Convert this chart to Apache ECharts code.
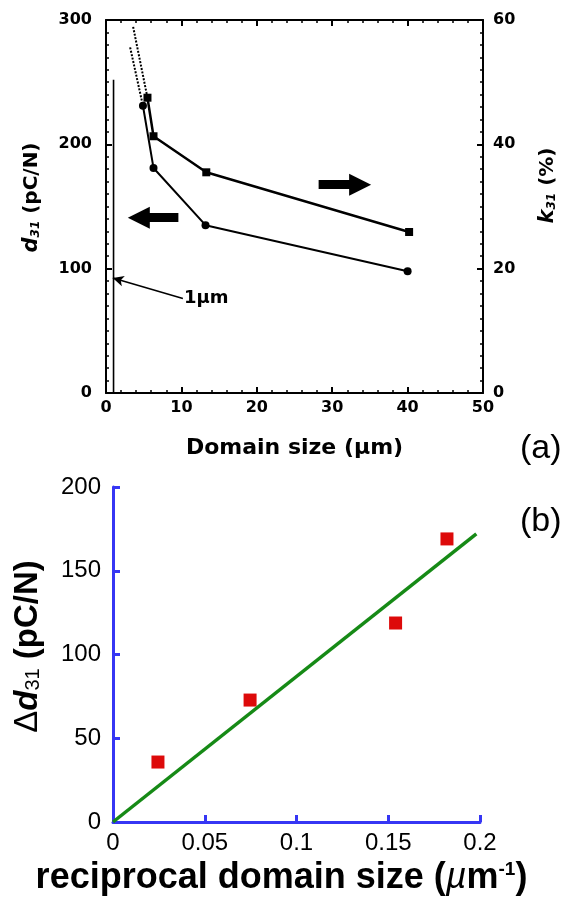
<!DOCTYPE html>
<html>
<head>
<meta charset="utf-8">
<script src="https://cdn.jsdelivr.net/npm/echarts@6/dist/echarts.min.js"></script>
<style>html,body{margin:0;padding:0;background:#fff;}#c{width:566px;height:900px;}</style>
</head>
<body>
<div id="c"></div>
<script>
// Panel (a): domain size (µm) vs d31 (pC/N) and k31 (%)
const d31Points = [[4.9, 231], [6.3, 181], [13.2, 135], [40, 98]];
const d31Extrap = [[3.2, 278], [4.9, 231]];
const k31Points = [[5.5, 47.5], [6.3, 41.3], [13.3, 35.5], [40.2, 25.9]];
const k31Extrap = [[3.6, 58.9], [5.5, 47.5]];
const oneMicronLine = [[1, 0], [1, 252]];
const xTicksA = [0, 10, 20, 30, 40, 50];
const d31Ticks = [0, 100, 200, 300];
const k31Ticks = [0, 20, 40, 60];
// Panel (b): reciprocal domain size vs Δd31
const recipX = [0.0245, 0.0747, 0.154, 0.182];
const deltaD31 = [35.8, 72.8, 118.8, 169];
const fitLine = [[0, 0], [0.198, 172]];
const xTicksB = ['0', '0.05', '0.1', '0.15', '0.2'];
const yTicksB = [0, 50, 100, 150, 200];

const FA = 'DejaVu Sans';
const FB = 'Liberation Sans, Arial, sans-serif';
const blue = '#3636f4';

const blackAxis = (extra) => Object.assign({
  axisLine: { show: true, onZero: false, lineStyle: { color: '#000', width: 2 } },
  axisTick: { show: true, inside: true, length: 6, lineStyle: { color: '#000', width: 2 } },
  minorTick: { show: true, length: 3, lineStyle: { color: '#000', width: 1.5 } },
  splitLine: { show: false },
  axisLabel: { color: '#000', fontFamily: FA, fontWeight: 'bold', fontSize: 16 }
}, extra);

const chart = echarts.init(document.getElementById('c'));
chart.setOption({
  animation: false,
  backgroundColor: '#fff',
  grid: [
    { left: 106, top: 20, width: 379, height: 373 },
    { left: 113, top: 487, width: 367, height: 335 }
  ],
  xAxis: [
    blackAxis({
      gridIndex: 0, type: 'value', min: 0, max: 50, interval: 10, position: 'bottom',
      minorTick: { show: true, splitNumber: 5, length: 3, lineStyle: { color: '#000', width: 1.5 } },
      axisLabel: { color: '#000', fontFamily: FA, fontWeight: 'bold', fontSize: 16, margin: 7,
        formatter: v => xTicksA.includes(v) ? String(v) : '' },
      name: 'Domain size (µm)', nameLocation: 'middle', nameGap: 44,
      nameTextStyle: { color: '#000', fontFamily: FA, fontWeight: 'bold', fontSize: 22 }
    }),
    blackAxis({
      gridIndex: 0, type: 'value', min: 0, max: 50, interval: 10, position: 'top',
      minorTick: { show: true, splitNumber: 5, length: 3, lineStyle: { color: '#000', width: 1.5 } },
      axisLabel: { show: false }
    }),
    {
      gridIndex: 1, type: 'value', min: 0, max: 0.2, interval: 0.05,
      axisLine: { show: true, onZero: false, lineStyle: { color: blue, width: 3 } },
      axisTick: { show: true, inside: true, length: 7, lineStyle: { color: blue, width: 3 } },
      splitLine: { show: false },
      axisLabel: { color: '#000', fontFamily: FB, fontSize: 24, margin: 9,
        formatter: v => xTicksB[Math.round(v / 0.05)] },
      name: '{t|reciprocal domain size (}{mu|µ}{t|m}{sup|-1}{t|)}',
      nameLocation: 'middle', nameGap: 38,
      nameTextStyle: {
        padding: [0, 30, 0, 0],
        rich: {
          t: { fontFamily: FB, fontWeight: 'bold', fontSize: 36, color: '#000' },
          mu: { fontFamily: FB, fontStyle: 'italic', fontSize: 36, color: '#000' },
          sup: { fontFamily: FB, fontWeight: 'bold', fontSize: 19, color: '#000', verticalAlign: 'top', padding: [0, 0, 16, 0] }
        }
      }
    }
  ],
  yAxis: [
    blackAxis({
      gridIndex: 0, type: 'value', min: 0, max: 300, interval: 100, position: 'left',
      minorTick: { show: true, splitNumber: 10, length: 3, lineStyle: { color: '#000', width: 1.5 } },
      axisLabel: { color: '#000', fontFamily: FA, fontWeight: 'bold', fontSize: 16, margin: 14,
        formatter: v => d31Ticks.includes(v) ? String(v) : '' },
      name: '{d|d}{s|31}{t| (pC/N)}', nameLocation: 'middle', nameGap: 64, nameRotate: 90,
      nameTextStyle: {
        padding: [0, 0, 0, 18],
        rich: {
          d: { fontFamily: FA, fontWeight: 'bold', fontStyle: 'italic', fontSize: 21, color: '#000' },
          s: { fontFamily: FA, fontWeight: 'bold', fontStyle: 'italic', fontSize: 12, color: '#000', padding: [8, 0, 0, 0] },
          t: { fontFamily: FA, fontWeight: 'bold', fontSize: 20, color: '#000' }
        }
      }
    }),
    blackAxis({
      gridIndex: 0, type: 'value', min: 0, max: 60, interval: 20, position: 'right',
      minorTick: { show: true, splitNumber: 10, length: 3, lineStyle: { color: '#000', width: 1.5 } },
      axisLabel: { color: '#000', fontFamily: FA, fontWeight: 'bold', fontSize: 16, margin: 10,
        formatter: v => k31Ticks.includes(v) ? String(v) : '' },
      name: '{d|k}{s|31}{t| (%)}', nameLocation: 'middle', nameGap: 54, nameRotate: 90,
      nameTextStyle: {
        padding: [0, 0, 0, 42],
        rich: {
          d: { fontFamily: FA, fontWeight: 'bold', fontStyle: 'italic', fontSize: 21, color: '#000' },
          s: { fontFamily: FA, fontWeight: 'bold', fontStyle: 'italic', fontSize: 12, color: '#000', padding: [8, 0, 0, 0] },
          t: { fontFamily: FA, fontWeight: 'bold', fontSize: 20, color: '#000' }
        }
      }
    }),
    {
      gridIndex: 1, type: 'value', min: 0, max: 200, interval: 50,
      axisLine: { show: true, onZero: false, lineStyle: { color: blue, width: 3 } },
      axisTick: { show: true, inside: true, length: 7, lineStyle: { color: blue, width: 3 } },
      splitLine: { show: false },
      axisLabel: { color: '#000', fontFamily: FB, fontSize: 24, margin: 12,
        formatter: v => yTicksB.includes(v) ? String(v) : '' },
      name: '{D|Δ}{d|d}{s|31}{t| (pC/N)}', nameLocation: 'middle', nameGap: 69, nameRotate: 90,
      nameTextStyle: {
        padding: [0, 0, 0, 16],
        rich: {
          D: { fontFamily: FB, fontSize: 33, color: '#000' },
          d: { fontFamily: FB, fontWeight: 'bold', fontStyle: 'italic', fontSize: 33, color: '#000' },
          s: { fontFamily: FB, fontSize: 20, color: '#000', padding: [12, 0, 0, 0] },
          t: { fontFamily: FB, fontWeight: 'bold', fontSize: 33, color: '#000' }
        }
      }
    }
  ],
  graphic: [
    { type: 'text', left: 520, top: 432, style: { text: '(a)', font: '34px Liberation Sans', fill: '#000' } },
    { type: 'text', left: 520, top: 505, style: { text: '(b)', font: '34px Liberation Sans', fill: '#000' } },
    { type: 'text', left: 184, top: 289, style: { text: '1µm', font: 'bold 18px DejaVu Sans', fill: '#000' } }
  ],
  series: [
    {
      type: 'line', xAxisIndex: 0, yAxisIndex: 0, data: d31Points,
      symbol: 'circle', symbolSize: 8, itemStyle: { color: '#000' },
      lineStyle: { color: '#000', width: 2 },
      markLine: {
        silent: true, symbol: ['none', 'triangle'], symbolSize: [22, 22],
        label: { show: false },
        data: [
          [{ coord: [9.6, 141], lineStyle: { color: '#000', width: 9, type: 'solid' } }, { coord: [4.35, 141] }],
          [{ coord: [10.2, 76], symbol: 'none', lineStyle: { color: '#000', width: 1.5, type: 'solid' } },
           { coord: [0.9, 92.5], symbol: 'arrow', symbolSize: [8, 11] }]
        ]
      }
    },
    {
      type: 'line', xAxisIndex: 0, yAxisIndex: 0, data: d31Extrap,
      symbol: 'none', lineStyle: { color: '#000', width: 2, type: [2, 1.5] }
    },
    {
      type: 'line', xAxisIndex: 0, yAxisIndex: 0, data: oneMicronLine,
      symbol: 'none', lineStyle: { color: '#000', width: 1.6 }
    },
    {
      type: 'line', xAxisIndex: 0, yAxisIndex: 1, data: k31Points,
      symbol: 'rect', symbolSize: 8, itemStyle: { color: '#000' },
      lineStyle: { color: '#000', width: 2.5 },
      markLine: {
        silent: true, symbol: ['none', 'triangle'], symbolSize: [22, 22],
        label: { show: false },
        data: [
          [{ coord: [28.2, 33.5], lineStyle: { color: '#000', width: 9, type: 'solid' } }, { coord: [33.7, 33.5] }]
        ]
      }
    },
    {
      type: 'line', xAxisIndex: 0, yAxisIndex: 1, data: k31Extrap,
      symbol: 'none', lineStyle: { color: '#000', width: 2, type: [2, 1.5] }
    },
    {
      type: 'line', xAxisIndex: 2, yAxisIndex: 2, data: fitLine,
      symbol: 'none', lineStyle: { color: '#168a16', width: 3.5 }
    },
    {
      type: 'scatter', xAxisIndex: 2, yAxisIndex: 2,
      data: recipX.map((x, i) => [x, deltaD31[i]]),
      symbol: 'rect', symbolSize: 13, itemStyle: { color: '#dd0a0a', opacity: 1 }
    }
  ]
});
</script>
</body>
</html>
